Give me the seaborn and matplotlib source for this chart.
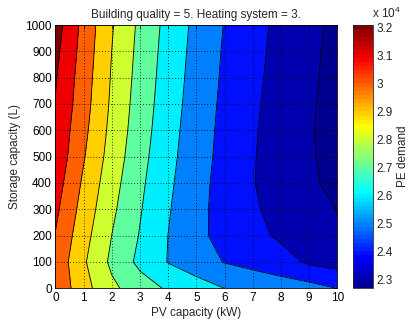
import numpy as np
import matplotlib
matplotlib.use("Agg")
import matplotlib.pyplot as plt
import matplotlib.colors as mcolors
import matplotlib.cm as cm
import seaborn as sns

# ---- data ----
pv_capacity = [0, 1, 2, 3, 4, 5, 6, 7, 8, 9, 10]                      # kW
storage_capacity = [0, 100, 200, 300, 400, 500, 600, 700, 800, 900, 1000]  # L

# PE demand, one row per storage capacity, one value per PV capacity
pe_storage_0 = [30790, 29360, 28210, 27470, 26870, 26440, 26000, 25750, 25500, 25360, 24990]
pe_storage_100 = [30720, 29130, 27790, 26750, 25960, 25450, 24960, 24680, 24400, 23850, 23620]
pe_storage_200 = [30950, 29360, 27990, 26940, 25990, 25200, 24730, 24280, 23840, 23450, 23060]
pe_storage_300 = [31210, 29600, 28190, 27070, 26080, 25250, 24670, 24110, 23710, 23340, 22980]
pe_storage_400 = [31460, 29830, 28380, 27190, 26180, 25320, 24660, 24040, 23600, 23160, 22730]
pe_storage_500 = [31700, 30070, 28570, 27330, 26280, 25420, 24700, 24060, 23570, 23100, 22680]
pe_storage_600 = [31800, 30250, 28710, 27450, 26370, 25480, 24740, 24100, 23580, 23080, 22650]
pe_storage_700 = [31950, 30400, 28830, 27540, 26460, 25550, 24790, 24150, 23620, 23120, 22650]
pe_storage_800 = [32080, 30490, 28910, 27630, 26530, 25620, 24850, 24210, 23670, 23170, 22680]
pe_storage_900 = [32250, 30600, 28990, 27710, 26600, 25680, 24900, 24270, 23710, 23210, 22720]
pe_storage_1000 = [32450, 30690, 29080, 27790, 26680, 25750, 24960, 24320, 23760, 23260, 22770]

contour_levels = [23000, 24000, 25000, 26000, 27000, 28000, 29000, 30000, 31000, 32000]
cbar_ticks = [23000, 24000, 25000, 26000, 27000, 28000, 29000, 30000, 31000, 32000]
cbar_ticklabels = ["2.3", "2.4", "2.5", "2.6", "2.7", "2.8", "2.9", "3", "3.1", "3.2"]
color_min, color_max = 22700, 32100

title_text = "Building quality = 5. Heating system = 3."
xlabel_text = "PV capacity (kW)"
ylabel_text = "Storage capacity (L)"
cbar_label_text = "PE demand"
offset_text = r"x 10$^{\mathregular{4}}$"

# ---- style ----
sns.set_style("white")
plt.rcParams["font.family"] = ["Liberation Sans", "DejaVu Sans"]
plt.rcParams["font.size"] = 8.5
plt.rcParams["mathtext.fontset"] = "custom"
plt.rcParams["mathtext.rm"] = "Liberation Sans"


def matlab_jet(m=64):
    n = int(np.ceil(m / 4))
    u = np.concatenate([np.arange(1, n + 1) / n, np.ones(n - 1), np.arange(n, 0, -1) / n])
    g = int(np.ceil(n / 2)) - (1 if m % 4 == 1 else 0) + np.arange(1, len(u) + 1)
    r = g + n
    b = g - n
    J = np.zeros((m, 3))
    J[r[r <= m] - 1, 0] = u[r <= m]
    J[g[g <= m] - 1, 1] = u[g <= m]
    J[b[b >= 1] - 1, 2] = u[b >= 1]
    return J


jet64 = matlab_jet(64)
cmap = mcolors.ListedColormap(jet64)
norm = mcolors.Normalize(vmin=color_min, vmax=color_max)


def level_color(v):
    idx = int(np.floor((v - color_min) / (color_max - color_min) * 64))
    idx = min(max(idx, 0), 63)
    return tuple(jet64[idx])


Z = np.array([pe_storage_0, pe_storage_100, pe_storage_200, pe_storage_300,
              pe_storage_400, pe_storage_500, pe_storage_600, pe_storage_700,
              pe_storage_800, pe_storage_900, pe_storage_1000], dtype=float)
X, Y = np.meshgrid(pv_capacity, storage_capacity)

fill_levels = [Z.min() - 1000] + contour_levels + [Z.max() + 1000]
band_colors = [level_color(color_min)] + [level_color(l) for l in contour_levels]

fig = plt.figure(figsize=(4.08, 3.21), dpi=100)
ax = fig.add_axes([55.5 / 408, 1 - 288.3 / 321, (337.3 - 55.5) / 408, (288.3 - 25.0) / 321])
cax = fig.add_axes([352.7 / 408, 1 - 288.3 / 321, 20.6 / 408, (288.3 - 25.0) / 321])

ax.contourf(X, Y, Z, levels=fill_levels, colors=band_colors)
ax.contour(X, Y, Z, levels=contour_levels, colors="k", linewidths=0.6)

ax.set_xlim(0, 10)
ax.set_ylim(0, 1000)
ax.set_xticks(pv_capacity)
ax.set_yticks(storage_capacity)
ax.grid(True, linestyle=(0, (1, 2.5)), color="k", linewidth=0.6)
ax.set_axisbelow(False)
ax.tick_params(direction="in", length=3, width=0.5, top=True, right=True,
               labelsize=8.5, pad=2.5, colors="k")
for s in ax.spines.values():
    s.set_linewidth(0.6)
    s.set_color("k")

ax.set_title(title_text, fontsize=8.5, pad=5)
ax.set_xlabel(xlabel_text, fontsize=8.5, labelpad=2)
ax.set_ylabel(ylabel_text, fontsize=8.5, labelpad=3)

sm = cm.ScalarMappable(norm=norm, cmap=cmap)
cbar = fig.colorbar(sm, cax=cax)
cbar.set_ticks(cbar_ticks)
cbar.set_ticklabels(cbar_ticklabels)
cax.tick_params(direction="in", length=2.5, width=0.5, left=True, right=True,
                labelsize=8.5, pad=2)
cbar.outline.set_linewidth(0.6)
cbar.set_label(cbar_label_text, fontsize=8.5, labelpad=3)

fig.text(372.5 / 408, 1 - 18.0 / 321, offset_text, fontsize=8.5, ha="left", va="baseline")

fig.savefig("out.png", dpi=100)
